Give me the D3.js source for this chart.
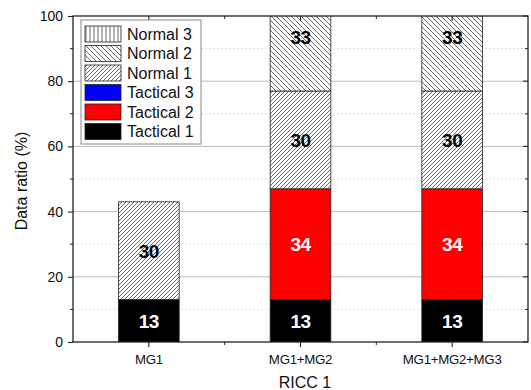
<!DOCTYPE html>
<html>
<head>
<meta charset="utf-8">
<script src="https://cdn.jsdelivr.net/npm/d3@7"></script>
<style>
  html, body { margin: 0; padding: 0; background: #fff; }
  svg { display: block; font-family: "Liberation Sans", Arial, sans-serif; }
</style>
</head>
<body>
<svg id="chart" width="531" height="390"></svg>
<script>
// Category labels along the x axis
const categories = ["MG1", "MG1+MG2", "MG1+MG2+MG3"];

// Stacked series values (%), bottom to top
const tactical1 = [13, 13, 13];
const tactical2 = [0, 34, 34];
const tactical3 = [0, 0, 0];
const normal1 = [30, 30, 30];
const normal2 = [0, 33, 33];
const normal3 = [0, 0, 0];

// Y axis ticks
const yMajorTicks = [0, 20, 40, 60, 80, 100];
const yMinorTicks = [10, 30, 50, 70, 90];

const seriesNames = ["Tactical 1", "Tactical 2", "Tactical 3", "Normal 1", "Normal 2", "Normal 3"];
const seriesValues = [tactical1, tactical2, tactical3, normal1, normal2, normal3];
const seriesFill = ["#000000", "#ff0000", "#0000ff", "url(#hatchFwd)", "url(#hatchBack)", "url(#hatchVert)"];
const labelColor = ["#fff", "#fff", "#fff", "#000", "#000", "#000"];

const svg = d3.select("#chart");
const plotL = 73, plotR = 528, plotT = 16, plotB = 342;

const x = d3.scaleBand().domain(categories).range([plotL, plotR]).paddingInner(0.6).paddingOuter(0.3);
const y = d3.scaleLinear().domain([0, 100]).range([plotB, plotT]);

// Hatch patterns
const defs = svg.append("defs");
function hatch(id, size, path) {
  const p = defs.append("pattern").attr("id", id).attr("patternUnits", "userSpaceOnUse")
    .attr("width", size).attr("height", size);
  p.append("rect").attr("width", size).attr("height", size).attr("fill", "#fff");
  p.append("path").attr("d", path).attr("stroke", "#444").attr("stroke-width", 0.8).attr("fill", "none");
}
hatch("hatchFwd", 4, "M-1,1 L1,-1 M0,4 L4,0 M3,5 L5,3");
hatch("hatchBack", 5, "M-1,4 L1,6 M0,0 L5,5 M4,-1 L6,1");
hatch("hatchVert", 4, "M2,0 L2,4");

defs.append("clipPath").attr("id", "plotClip")
  .append("rect").attr("x", plotL).attr("y", plotT).attr("width", plotR - plotL).attr("height", plotB - plotT);

// Gridlines
svg.append("g").selectAll("line").data(yMinorTicks).join("line")
  .attr("x1", plotL).attr("x2", plotR).attr("y1", d => y(d)).attr("y2", d => y(d))
  .attr("stroke", "#d8d8d8").attr("stroke-width", 0.8).attr("stroke-dasharray", "2,2");
svg.append("g").selectAll("line").data(yMajorTicks.filter(d => d > 0 && d < 100)).join("line")
  .attr("x1", plotL).attr("x2", plotR).attr("y1", d => y(d)).attr("y2", d => y(d))
  .attr("stroke", "#b4b4b4").attr("stroke-width", 0.9);

// Stack the series
const rows = categories.map((c, i) => {
  const r = { cat: c };
  seriesNames.forEach((s, k) => { r[s] = seriesValues[k][i]; });
  return r;
});
const stacked = d3.stack().keys(seriesNames)(rows);

const bars = svg.append("g").attr("clip-path", "url(#plotClip)");
stacked.forEach((layer, k) => {
  bars.append("g").selectAll("rect").data(layer.filter(d => d[1] - d[0] > 0)).join("rect")
    .attr("x", d => x(d.data.cat))
    .attr("width", x.bandwidth())
    .attr("y", d => y(d[1]))
    .attr("height", d => y(d[0]) - y(d[1]))
    .attr("fill", seriesFill[k])
    .attr("stroke", "#222").attr("stroke-width", 0.8);
});

// Value labels
stacked.forEach((layer, k) => {
  svg.append("g").selectAll("text").data(layer.filter(d => d[1] - d[0] > 0)).join("text")
    .attr("x", d => x(d.data.cat) + x.bandwidth() / 2)
    .attr("y", d => y((d[0] + d[1]) / 2))
    .attr("dy", "0.36em")
    .attr("text-anchor", "middle")
    .attr("font-size", 19).attr("font-weight", "bold")
    .attr("letter-spacing", -0.5)
    .attr("fill", labelColor[k])
    .text(d => d[1] - d[0]);
});

// Frame
const axisColor = "#222";
svg.append("rect").attr("x", plotL).attr("y", plotT).attr("width", plotR - plotL).attr("height", plotB - plotT)
  .attr("fill", "none").attr("stroke", axisColor).attr("stroke-width", 1.3);

// Left axis
const yAxis = svg.append("g").attr("transform", `translate(${plotL},0)`)
  .call(d3.axisLeft(y).tickValues(yMajorTicks).tickSize(5).tickPadding(5).tickFormat(d3.format("d")));
yAxis.select(".domain").remove();
yAxis.selectAll("line").attr("stroke", axisColor).attr("stroke-width", 1.1);
yAxis.selectAll("text").attr("font-size", 14).attr("fill", "#111").style("font-family", "Liberation Sans, Arial, sans-serif");
svg.append("g").selectAll("line").data(yMinorTicks).join("line")
  .attr("x1", plotL - 3).attr("x2", plotL).attr("y1", d => y(d)).attr("y2", d => y(d))
  .attr("stroke", axisColor).attr("stroke-width", 1);

// Right axis: inward ticks
svg.append("g").selectAll("line").data(yMajorTicks).join("line")
  .attr("x1", plotR - 5).attr("x2", plotR).attr("y1", d => y(d)).attr("y2", d => y(d))
  .attr("stroke", axisColor).attr("stroke-width", 1.1);
svg.append("g").selectAll("line").data(yMinorTicks).join("line")
  .attr("x1", plotR - 3).attr("x2", plotR).attr("y1", d => y(d)).attr("y2", d => y(d))
  .attr("stroke", axisColor).attr("stroke-width", 1);

// Bottom axis
const xAxis = svg.append("g").attr("transform", `translate(0,${plotB})`)
  .call(d3.axisBottom(x).tickSize(5));
xAxis.select(".domain").remove();
xAxis.selectAll("line").attr("stroke", axisColor).attr("stroke-width", 1.1);
xAxis.selectAll("text").attr("dy", null).attr("y", 22)
  .attr("font-size", 13.3).attr("letter-spacing", -0.3).attr("fill", "#111")
  .style("font-family", "Liberation Sans, Arial, sans-serif");

const step = x.step();
const xMinor = categories.slice(1).map(c => x(c) + x.bandwidth() / 2 - step / 2);
svg.append("g").selectAll("line").data(xMinor).join("line")
  .attr("x1", d => d).attr("x2", d => d).attr("y1", plotB).attr("y2", plotB + 3)
  .attr("stroke", axisColor).attr("stroke-width", 1);

// Top axis: inward ticks
svg.append("g").selectAll("line").data(categories).join("line")
  .attr("x1", d => x(d) + x.bandwidth() / 2).attr("x2", d => x(d) + x.bandwidth() / 2)
  .attr("y1", plotT).attr("y2", plotT + 5)
  .attr("stroke", axisColor).attr("stroke-width", 1.1);
svg.append("g").selectAll("line").data(xMinor).join("line")
  .attr("x1", d => d).attr("x2", d => d).attr("y1", plotT).attr("y2", plotT + 3)
  .attr("stroke", axisColor).attr("stroke-width", 1);

// Axis titles
svg.append("text").attr("x", 305).attr("y", 388)
  .attr("text-anchor", "middle").attr("font-size", 16).attr("fill", "#111").text("RICC 1");
svg.append("text").attr("transform", `translate(27,181) rotate(-90)`)
  .attr("text-anchor", "middle").attr("font-size", 16).attr("fill", "#111").text("Data ratio (%)");

// Legend (top entry first)
const legend = svg.append("g");
legend.append("rect").attr("x", 81).attr("y", 20).attr("width", 120).attr("height", 124)
  .attr("fill", "#fff").attr("stroke", "#888").attr("stroke-width", 1);
const legendOrder = [5, 4, 3, 2, 1, 0];
legendOrder.forEach((k, i) => {
  const cy = 34 + i * 19.5;
  legend.append("rect").attr("x", 85).attr("y", cy - 8).attr("width", 36).attr("height", 16)
    .attr("fill", seriesFill[k]).attr("stroke", "#222").attr("stroke-width", 0.8);
  legend.append("text").attr("x", 127).attr("y", cy).attr("dy", "0.36em")
    .attr("font-size", 16).attr("fill", "#111").text(seriesNames[k]);
});
</script>
</body>
</html>
